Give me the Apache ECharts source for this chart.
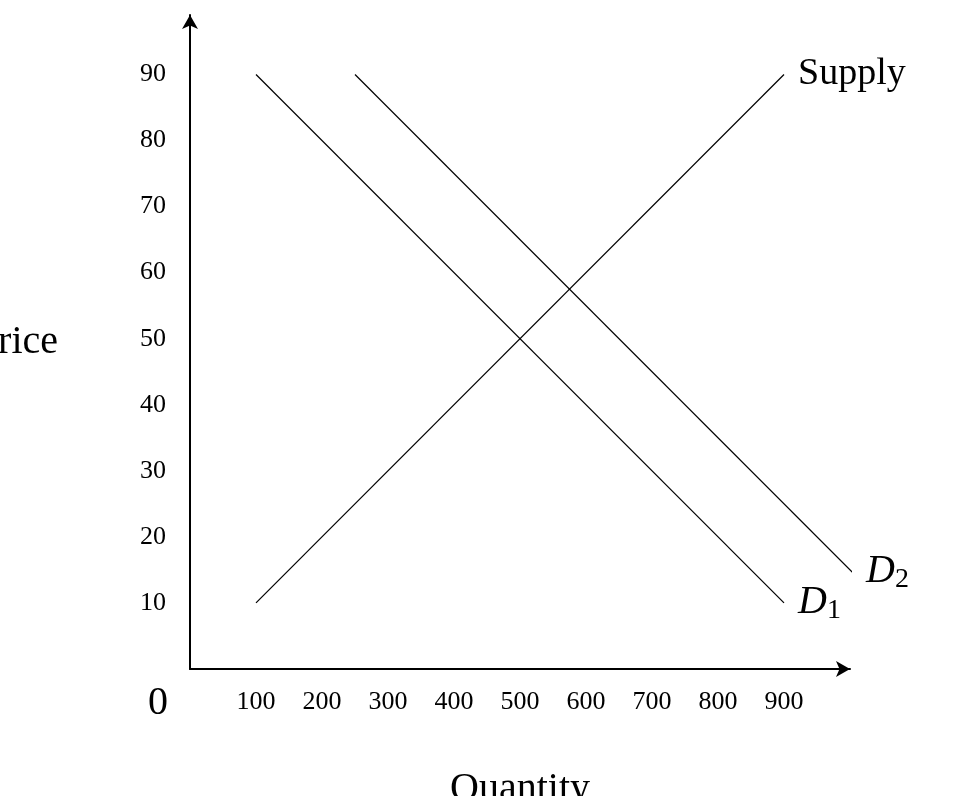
<!DOCTYPE html>
<html><head><meta charset="utf-8">
<script src="https://cdn.jsdelivr.net/npm/echarts@6/dist/echarts.min.js"></script>
<style>html,body{margin:0;background:#fff}#c{width:961px;height:796px}</style>
</head><body><div id="c"></div>
<script>
const supply = [[100,10],[900,90]];
const demand1 = [[100,90],[900,10]];
const demand2 = [[250,90],[1050,10]];
const xTicks = [100,200,300,400,500,600,700,800,900];
const yTicks = [10,20,30,40,50,60,70,80,90];
const F = '"Liberation Serif", "DejaVu Serif", serif';
const chart = echarts.init(document.getElementById('c'));
const lineStyle = {color:'#000', width:1.2};
function ser(name, data, label){
  return {type:'line', name, data, symbol:'none', lineStyle, silent:true, clip:false,
    endLabel:{show:true, formatter:label, distance:14, color:'#000', fontFamily:F, fontSize:38,
      rich:{i:{fontStyle:'italic',fontSize:40,fontFamily:F,color:'#000'}, s:{fontSize:28,fontFamily:F,color:'#000',verticalAlign:'bottom',padding:[16,0,0,0]}}}};
}
chart.setOption({
  animation:false,
  grid:{left:190,right:111,top:15,bottom:127,outerBoundsMode:'none',containLabel:false},
  textStyle:{fontFamily:F},
  xAxis:{type:'value',min:0,max:1000,interval:100,
    axisLine:{lineStyle:{color:'#000',width:2},symbol:['none','arrow'],symbolSize:[12,14]},
    axisTick:{show:false}, splitLine:{show:false},
    axisLabel:{color:'#000',fontSize:26,fontFamily:F,margin:20,
      formatter:v=>xTicks.includes(v)?String(v):''},
    name:'Quantity',nameLocation:'middle',nameGap:100,nameTextStyle:{fontSize:40,fontFamily:F,color:'#000'}},
  yAxis:{type:'value',min:0,max:99,interval:10,
    axisLine:{show:true,lineStyle:{color:'#000',width:2},symbol:['none','arrow'],symbolSize:[12,14]},
    axisTick:{show:false}, splitLine:{show:false},
    axisLabel:{color:'#000',fontSize:26,fontFamily:F,margin:24,
      formatter:v=>yTicks.includes(v)?String(v):''},
    name:'Price',nameLocation:'middle',nameGap:132,nameRotate:0,nameTextStyle:{fontSize:40,fontFamily:F,color:'#000'}},
  graphic:[{type:'text',left:148,top:683,style:{text:'0',font:'40px '+F,fill:'#000'}}],
  series:[
    ser('Supply',supply,'Supply'),
    ser('D1',demand1,'{i|D}{s|1}'),
    ser('D2',demand2,'{i|D}{s|2}')
  ]
});
</script></body></html>
